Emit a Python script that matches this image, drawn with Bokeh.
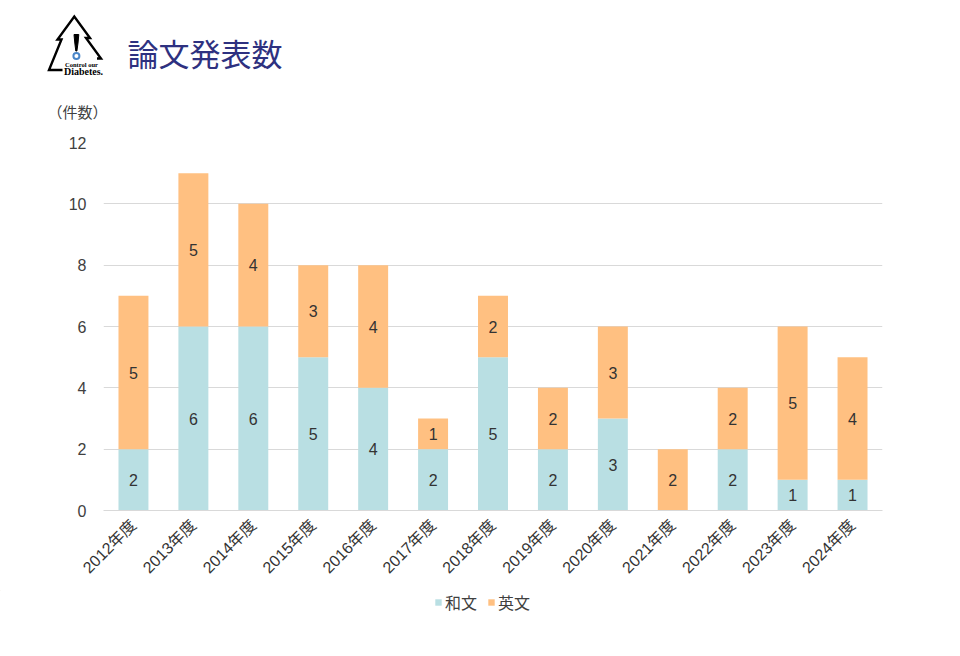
import math
from bokeh.plotting import figure
from bokeh.models import (Range1d, FactorRange, SingleIntervalTicker, Legend, LegendItem,
                          ColumnDataSource)
from bokeh.core.properties import value
from bokeh.embed import file_html
from bokeh.resources import INLINE

# ---- data ----
years = ["2012年度", "2013年度", "2014年度", "2015年度", "2016年度", "2017年度", "2018年度",
         "2019年度", "2020年度", "2021年度", "2022年度", "2023年度", "2024年度"]
wabun = [2, 6, 6, 5, 4, 2, 5, 2, 3, 0, 2, 1, 1]
eibun = [5, 5, 4, 3, 4, 1, 2, 2, 3, 2, 2, 5, 4]
series = ["和文", "英文"]
colors = ["#B9DFE3", "#FFC081"]
title_text = "論文発表数"
ylabel_text = "（件数）"

FONT = "Liberation Sans, Noto Sans CJK JP"
CJK = "Noto Sans CJK JP"

W = 952
HEAD_H = 130                 # header strip: page y 0..130
MAIN_H = 460                 # chart:        page y 130..590
FOOT_H = 30                  # legend strip: page y 590..620
FX0, FX1 = 103, 882          # plot frame left/right (page px)
FY1, FY0 = 142, 510          # plot frame top/bottom (page px)


def strip(height):
    f = figure(width=W, height=height, x_range=Range1d(0, W), y_range=Range1d(height, 0),
               output_backend="svg", toolbar_location=None,
               x_axis_location=None, y_axis_location=None,
               min_border=0, min_border_left=0, min_border_right=0,
               min_border_top=0, min_border_bottom=0)
    f.grid.visible = False
    f.outline_line_color = None
    return f

# ---------------- header (logo, title, unit caption) ----------------
h = strip(HEAD_H)
h.text(x=[127], y=[52], text=[title_text], text_font=value(CJK), text_font_size="31px",
       text_color="#2E3180", text_baseline="middle", text_align="left")
h.text(x=[77], y=[111], text=[ylabel_text], text_font=value(CJK), text_font_size="15px",
       text_color="#404040", text_baseline="middle", text_align="center")

# logo (decorative)
tree_x = [62.0, 48.5, 61.0, 57.0, 73.8, 89.5, 85.5, 100.5, 96.5]
tree_y = [69.5, 69.5, 39.0, 39.0, 16.0, 37.5, 37.5, 58.0, 58.0]
h.line(tree_x, tree_y, line_color="black", line_width=2.4, line_join="miter")
h.patch([73.5, 78.3, 77.5, 76.4, 75.3, 74.3], [34, 34, 42.5, 50.5, 50.5, 42.5],
        fill_color="black", line_color="black", line_width=1)
h.scatter([75.9], [55.5], size=6, marker="circle", fill_color="white",
          line_color="#4A86C8", line_width=2)
h.text(x=[81], y=[63.5], text=["Control our"], text_font=value("Liberation Serif"),
       text_font_size="6.5px", text_font_style="bold", text_color="black",
       text_align="center", text_baseline="middle")
h.text(x=[83], y=[70.5], text=["Diabetes."], text_font=value("Liberation Serif"),
       text_font_size="10px", text_font_style="bold", text_color="black",
       text_align="center", text_baseline="middle")

# ---------------- main chart ----------------
p = figure(width=W, height=MAIN_H, x_range=FactorRange(*years), y_range=Range1d(0, 12),
           output_backend="svg", toolbar_location=None,
           min_border_left=FX0, min_border_right=W - FX1,
           min_border_top=FY1 - HEAD_H, min_border_bottom=HEAD_H + MAIN_H - FY0)
p.outline_line_color = None

src = ColumnDataSource(dict(x=years, 和文=wabun, 英文=eibun))
rs = p.vbar_stack(series, x="x", width=0.5, color=colors, line_color=None, source=src)

# data labels (segment centres)
lx, ly, lt = [], [], []
for i, yr in enumerate(years):
    if wabun[i] > 0:
        lx.append(yr); ly.append(wabun[i] / 2); lt.append(str(wabun[i]))
    if eibun[i] > 0:
        lx.append(yr); ly.append(wabun[i] + eibun[i] / 2); lt.append(str(eibun[i]))
p.text(x=lx, y=ly, text=lt, text_align="center", text_baseline="middle",
       text_font=value(FONT), text_font_size="16px", text_color="#333333")

p.yaxis.ticker = SingleIntervalTicker(interval=2)
p.yaxis.axis_line_color = None
p.yaxis.major_tick_line_color = None
p.yaxis.minor_tick_line_color = None
p.yaxis.major_tick_out = 0
p.yaxis.major_tick_in = 0
p.yaxis.major_label_text_font = FONT
p.yaxis.major_label_text_font_size = "16px"
p.yaxis.major_label_text_color = "#404040"
p.yaxis.major_label_standoff = 13

p.xaxis.axis_line_color = "#D9D9D9"
p.xaxis.major_tick_line_color = None
p.xaxis.minor_tick_line_color = None
p.xaxis.major_tick_out = 0
p.xaxis.major_tick_in = 0
p.xaxis.major_label_orientation = math.pi / 4
p.xaxis.major_label_text_font = FONT
p.xaxis.major_label_text_font_size = "16px"
p.xaxis.major_label_text_color = "#333333"
p.xaxis.major_label_standoff = 12

p.xgrid.grid_line_color = None
p.ygrid.grid_line_color = "#D9D9D9"
p.ygrid.grid_line_width = 1

# ---------------- legend strip ----------------
f = strip(FOOT_H)
items = []
for name, col in zip(series, colors):
    # off-canvas stand-in renderer so the legend can draw the swatch colour
    r = f.vbar(x=[-500], top=[-500], bottom=[-510], width=1, fill_color=col, line_color=None)
    items.append(LegendItem(label=name, renderers=[r]))
legend = Legend(items=items, orientation="horizontal", location=(434, 6),
                glyph_width=8, glyph_height=8, label_standoff=3, spacing=10,
                padding=0, margin=0, border_line_color=None, background_fill_alpha=0,
                label_text_font=FONT, label_text_font_size="16px",
                label_text_color="#404040", label_height=16)
f.add_layout(legend, "center")

open("out.html", "w").write(file_html([h, p, f], INLINE))
